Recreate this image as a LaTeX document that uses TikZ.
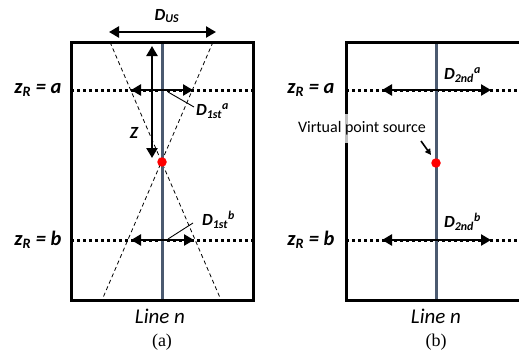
\documentclass[tikz,border=0pt]{standalone}
\usepackage{fontspec}
\setmainfont{Carlito}
\newfontfamily\capfont{Liberation Serif}
\usetikzlibrary{arrows.meta,calc}
\definecolor{slate}{HTML}{4B5A70}
\tikzset{
  frame/.style={line width=3pt, draw=black},
  axisline/.style={line width=3pt, draw=slate},
  dotline/.style={line width=3pt, dash pattern=on 3pt off 3pt},
  cone/.style={line width=0.8pt, dash pattern=on 4pt off 3pt},
  dblarrow/.style={line width=2.8pt, {Triangle[length=10pt,width=11pt]}-{Triangle[length=10pt,width=11pt]}},
  leader/.style={line width=0.9pt},
  lab/.style={font=\fontsize{17}{19}\selectfont\bfseries\itshape, inner sep=0pt},
  zlab/.style={font=\fontsize{20.5}{22}\selectfont\bfseries\itshape, inner sep=0pt},
  linelab/.style={font=\fontsize{21}{23}\selectfont\itshape, inner sep=0pt},
  caplab/.style={font=\fontsize{18}{20}\selectfont\capfont, inner sep=0pt},
  dot/.style={circle, fill=red, minimum size=9.5pt, inner sep=0pt},
}
\begin{document}
\begin{tikzpicture}[x=1pt,y=-1pt]
\useasboundingbox (0,0) rectangle (519,356);
% ---------- panel (a) ----------
\coordinate (aTL) at (71,42);
\coordinate (aBR) at (253,300);
\coordinate (aTop) at (162,42);
\coordinate (aBot) at (162,300);
\coordinate (aLa) at (71,90);
\coordinate (aRa) at (253,90);
\coordinate (aLb) at (71,240);
\coordinate (aRb) at (253,240);
\coordinate (cTL) at (110,42);
\coordinate (cTR) at (213,42);
\coordinate (cBL) at (102,300);
\coordinate (cBR) at (221,300);
\draw[dotline] (aLa) -- (aRa);
\draw[dotline] (aLb) -- (aRb);
\draw[cone] (cTL) -- (cBR);
\draw[cone] (cTR) -- (cBL);
\draw[axisline] (aTop) -- (aBot);
\draw[frame] (aTL) rectangle (aBR);
\node[dot] (srcA) at (162,162) {};
% D_US
\coordinate (usL) at (109,32);
\coordinate (usR) at (216,32);
\draw[dblarrow] (usL) -- (usR);
\node[lab] (dus) at (167,16) {D\textsubscript{US}};
% Z
\coordinate (zT) at (152,46);
\coordinate (zB) at (152,158);
\draw[dblarrow] (zT) -- (zB);
\node[lab] (zlab) at (134,133) {Z};
% D1st a
\coordinate (d1aL) at (131,90);
\coordinate (d1aR) at (193,90);
\draw[dblarrow] (d1aL) -- (d1aR);
\coordinate (la1) at (168,92);
\coordinate (la2) at (194,107);
\draw[leader] (la1) -- (la2);
\node[lab, anchor=west] (d1a) at (196,111) {D\textsubscript{1st}\textsuperscript{a}};
% D1st b
\coordinate (d1bL) at (131,240);
\coordinate (d1bR) at (194,240);
\draw[dblarrow] (d1bL) -- (d1bR);
\coordinate (lb1) at (168,239);
\coordinate (lb2) at (193,223);
\draw[leader] (lb1) -- (lb2);
\node[lab, anchor=west] (d1b) at (202,220) {D\textsubscript{1st}\textsuperscript{b}};
% labels
\node[zlab] (za) at (38,90) {z\textsubscript{R} = a};
\node[zlab] (zb) at (38,240) {z\textsubscript{R} = b};
\node[linelab] (lnA) at (160,316) {Line n};
\node[caplab] (capA) at (162,342) {(a)};
% ---------- panel (b) ----------
\coordinate (bTL) at (346,42);
\coordinate (bTR) at (530,42);
\coordinate (bBL) at (346,300);
\coordinate (bBR) at (530,300);
\coordinate (bTop) at (436,42);
\coordinate (bBot) at (436,300);
\coordinate (bLa) at (346,90);
\coordinate (bRa) at (522,90);
\coordinate (bLb) at (346,240);
\coordinate (bRb) at (522,240);
\draw[dotline] (bLa) -- (bRa);
\draw[dotline] (bLb) -- (bRb);
\draw[axisline] (bTop) -- (bBot);
\draw[frame] (bTR) -- (bTL) -- (bBL) -- (bBR);
\coordinate (d2aL) at (382,90);
\coordinate (d2aR) at (491,90);
\draw[dblarrow] (d2aL) -- (d2aR);
\coordinate (d2bL) at (382,240);
\coordinate (d2bR) at (491,240);
\draw[dblarrow] (d2bL) -- (d2bR);
\node[lab, anchor=west] (d2a) at (444,75) {D\textsubscript{2nd}\textsuperscript{a}};
\node[lab, anchor=west] (d2b) at (444,222) {D\textsubscript{2nd}\textsuperscript{b}};
\node[zlab] (zba) at (311,90) {z\textsubscript{R} = a};
\node[zlab] (zbb) at (311,240) {z\textsubscript{R} = b};
\node[dot] (srcB) at (436,163) {};
\node[font=\fontsize{16}{18}\selectfont, fill=white, fill opacity=0.75, text opacity=1, inner sep=1pt, minimum height=29pt] (vps) at (362,128) {Virtual point source};
\coordinate (vpA) at (421,141);
\coordinate (vpB) at (431,155);
\draw[line width=1.6pt, -{Triangle[length=6pt,width=6pt]}] (vpA) -- (vpB);
\node[linelab] (lnB) at (436,316) {Line n};
\node[caplab] (capB) at (436,342) {(b)};
\end{tikzpicture}
\end{document}
